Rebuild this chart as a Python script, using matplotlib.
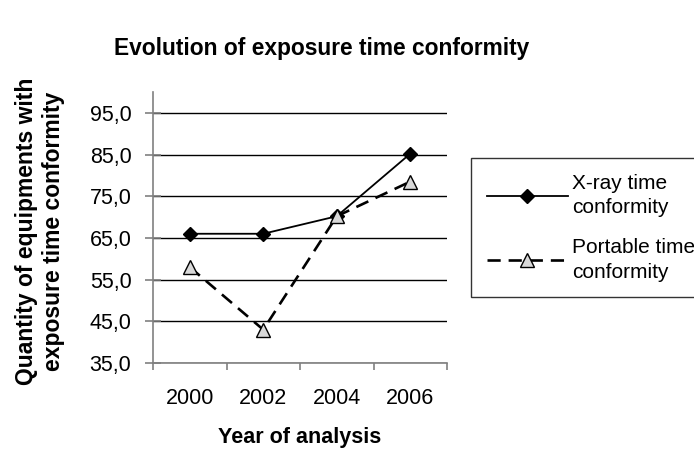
import matplotlib.pyplot as plt
from matplotlib.ticker import FuncFormatter

plt.rcParams["font.family"] = ["Liberation Sans", "DejaVu Sans"]

# Data
years = ["2000", "2002", "2004", "2006"]
xray = [66.0, 66.0, 70.2, 85.2]
portable = [58.0, 43.0, 70.2, 78.5]
yticks = [35, 45, 55, 65, 75, 85, 95]

fig = plt.figure(figsize=(6.94, 4.51), dpi=100)
ax = fig.add_axes([153 / 694, 1 - 363 / 451, 294 / 694, 271 / 451])

x = range(len(years))
ax.plot(x, xray, color="black", linewidth=1.3, marker="D", markersize=7.5,
        markerfacecolor="black", label="X-ray time\nconformity")
ax.plot(x, portable, color="black", linewidth=1.9, linestyle=(0, (5, 3)),
        marker="^", markersize=10.5, markerfacecolor="#d9d9d9",
        markeredgecolor="black", markeredgewidth=1.0,
        label="Portable time\nconformity")

ax.set_xlim(-0.5, 3.5)
ax.set_ylim(35, 100)
ax.set_yticks(yticks)
ax.yaxis.set_major_formatter(FuncFormatter(lambda v, p: f"{v:.1f}".replace(".", ",")))
ax.set_xticks(list(x))
ax.set_xticklabels(years)
ax.set_xticks([-0.5, 0.5, 1.5, 2.5, 3.5], minor=True)
ax.tick_params(axis="x", which="major", length=0, labelsize=15.5, pad=18)
ax.tick_params(axis="x", which="minor", length=5, color="#808080", width=1.2)
ax.tick_params(axis="y", direction="inout", length=11, width=1.2,
               labelsize=15.5, color="#808080", pad=10)

ax.grid(axis="y", color="black", linewidth=1.0)
ax.set_axisbelow(True)
for s in ["top", "right"]:
    ax.spines[s].set_visible(False)
for s in ["left", "bottom"]:
    ax.spines[s].set_color("#808080")
    ax.spines[s].set_linewidth(1.2)

ax.set_xlabel("Year of analysis", fontsize=15.5, fontweight="bold")
ax.xaxis.set_label_coords(0.5, (363 - 437) / 271)
ax.xaxis.label.set_va("center")
ax.set_ylabel("Quantity of equipments with\nexposure time conformity",
              fontsize=16.5, fontweight="bold")
ax.yaxis.set_label_coords((40 - 153) / 294, 0.485)
ax.yaxis.label.set_va("center")

fig.text(0.464, 0.893, "Evolution of exposure time conformity",
         ha="center", va="center", fontsize=16.4, fontweight="bold")

leg = ax.legend(loc="upper left", bbox_to_anchor=((471 - 153) / 294, (363 - 158) / 271),
                fontsize=15, frameon=True, fancybox=False, edgecolor="black",
                handlelength=3.9, labelspacing=1.0, borderpad=0.75,
                handletextpad=0.2, borderaxespad=0)
leg.get_frame().set_linewidth(1.0)
for t in leg.get_texts():
    t.set_linespacing(1.38)

fig.savefig("out.png", dpi=100)
